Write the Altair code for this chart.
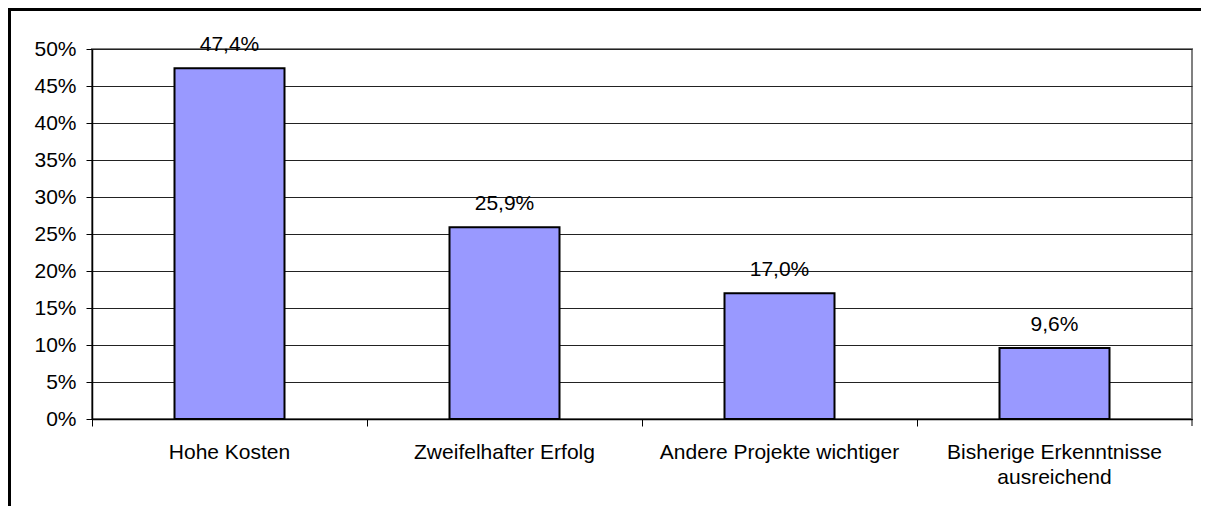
import altair as alt
import pandas as pd

categories = ["Hohe Kosten", "Zweifelhafter Erfolg", "Andere Projekte wichtiger", "Bisherige Erkenntnisse|ausreichend"]
values = [0.474, 0.259, 0.170, 0.096]
y_ticks = [0, 0.05, 0.10, 0.15, 0.20, 0.25, 0.30, 0.35, 0.40, 0.45, 0.50]

W, H = 1100, 370
FONT = "Liberation Sans"
FS = 21

df = pd.DataFrame({
    "cat": categories,
    "val": values,
    "label": [f"{v*100:.1f}%".replace(".", ",") for v in values],
})

xenc = alt.X("cat:N", scale=alt.Scale(domain=categories, paddingInner=0, paddingOuter=0),
             sort=None, title=None,
             axis=alt.Axis(bandPosition=0, labelAngle=0,
                           labelExpr="split(datum.label, '|')",
                           labelLineHeight=25, labelFont=FONT, labelFontSize=FS,
                           labelColor="black", labelPadding=15, tickSize=7,
                           tickColor="black", domainColor="black", domainWidth=1.5,
                           labelLimit=400))
yenc = alt.Y("val:Q", scale=alt.Scale(domain=[0, 0.5], nice=False), title=None,
             axis=alt.Axis(values=y_ticks, format=".0%", labelFont=FONT,
                           labelFontSize=FS, labelColor="black", labelPadding=10,
                           labelOverlap=False, tickCount=11,
                           tickSize=6, tickColor="black", domainColor="black",
                           domainWidth=1.5, grid=True, gridColor="#222222",
                           gridWidth=1))

base = alt.Chart(df).encode(x=xenc, y=yenc)

bars = base.mark_bar(
    fill="#9999FF", stroke="black", strokeWidth=2,
    width=alt.RelativeBandSize(0.4)
)

text = base.mark_text(
    font=FONT, fontSize=FS, color="black", baseline="alphabetic", dy=-17
).encode(text="label:N")

frame_df = pd.DataFrame({"a": [0]})
end_tick = alt.Chart(frame_df).mark_rule(color="black", strokeWidth=1).encode(
    x=alt.value(W), y=alt.value(H), y2=alt.value(H + 7)
)
frame = alt.Chart(frame_df).mark_rect(
    filled=False, stroke="black", strokeWidth=3
).encode(
    x=alt.value(-82.5), x2=alt.value(W + 40), y=alt.value(-39.5), y2=alt.value(H + 120)
)

chart = alt.layer(bars, text, end_tick, frame).properties(
    width=W, height=H,
    padding={"left": 84, "top": 41, "right": 9, "bottom": 87},
    autosize=alt.AutoSizeParams(type="none"),
    background="white",
).configure_view(
    stroke="#808080", strokeWidth=2
)

chart.save("out.html", embed_options={"renderer": "svg", "actions": False})
